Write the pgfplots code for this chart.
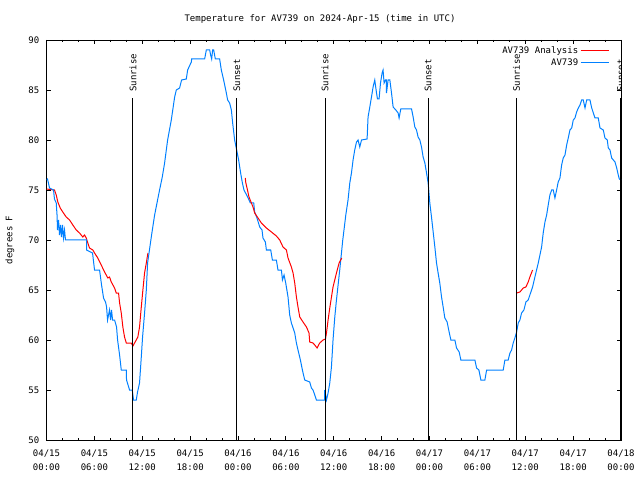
\documentclass[border=0pt]{standalone}
\usepackage{pgfplots}
\pgfplotsset{compat=1.18}
\usepackage{fontspec}
\setmainfont{DejaVu Sans Mono}
\definecolor{ablue}{RGB}{0,128,255}
\definecolor{ared}{RGB}{255,0,0}
\begin{document}
\fontsize{9pt}{11pt}\selectfont
\begin{tikzpicture}[x=1pt,y=1pt]
\path[use as bounding box] (0,0) rectangle (640,480);
\node[inner sep=0pt] at (320,461) {Temperature for AV739 on 2024-Apr-15 (time in UTC)};
\node[rotate=90,inner sep=0pt] at (10,240) {degrees F};
\begin{axis}[
  at={(46.5pt,40pt)}, anchor=south west,
  scale only axis, width=574.5pt, height=400pt,
  xmin=0, xmax=72, ymin=50, ymax=90,
  xtick={0,6,...,72},
  xticklabels={{04/15\\00:00},{04/15\\06:00},{04/15\\12:00},{04/15\\18:00},{04/16\\00:00},{04/16\\06:00},{04/16\\12:00},{04/16\\18:00},{04/17\\00:00},{04/17\\06:00},{04/17\\12:00},{04/17\\18:00},{04/18\\00:00}},
  minor xtick={2,4,8,10,14,16,20,22,26,28,32,34,38,40,44,46,50,52,56,58,62,64,68,70},
  ytick={50,55,...,90},
  tick align=inside,
  major tick length=4pt, minor tick length=2.5pt,
  tick style={black, line width=0.8pt},
  axis line style={black, line width=0.8pt},
  /pgf/number format/assume math mode=true,
  xticklabel style={font=\fontsize{9}{14}\selectfont, align=center, yshift=-7pt},
  yticklabel style={font=\fontsize{9}{11}\selectfont, xshift=-4pt},
  legend style={draw=none, fill=none, anchor=north east, at={(0.985,0.995)}, font=\fontsize{9}{11}\selectfont, row sep=0pt},
  legend cell align=right,
  legend plot pos=right,
  legend image code/.code={\draw[#1] (0pt,0pt) -- (28pt,0pt);},
]
\addplot[ared, line width=1pt] coordinates {
(0,75.1)(1.00,75)(1.22,74.5)(1.42,73.8)(1.72,73.2)(2.04,72.8)(2.47,72.3)(2.89,72)(3.30,71.5)(3.73,71)(4.14,70.7)(4.55,70.3)(4.77,70.5)(4.98,70.2)(5.18,69.7)(5.39,69.2)(5.81,69)(6.02,68.7)(6.43,68.2)(6.86,67.5)(7.28,66.8)(7.69,66.2)(7.90,66.3)(8.12,65.8)(8.53,65.2)(8.74,64.7)(9.03,64.7)(9.16,63.7)(9.37,62.7)(9.57,61.3)(9.78,60.3)(10.00,59.7)(10.62,59.7)(10.83,59.4)(11.04,59.7)(11.45,60.3)(11.66,61.3)(11.88,63.3)(12.08,65)(12.29,66.7)(12.51,67.7)(12.71,68.7)
};
\addlegendentry{AV739 Analysis}
\addplot[ablue, line width=1pt] coordinates {
(0,76)(0.13,76.1)(0.38,75.2)(0.88,75)(1.00,74.1)(1.22,73.7)(1.32,72.5)(1.38,71)(1.51,72)(1.63,70.5)(1.76,71.5)(1.88,70.3)(2.01,71.5)(2.13,70.2)(2.26,71)(2.38,70)(2.89,70)(5.02,70)(5.02,69)(5.77,68.7)(6.02,67)(6.65,67)(6.90,65.5)(7.15,64.2)(7.40,63.8)(7.53,63.3)(7.65,62)(7.90,63)(8.03,62)(8.15,63)(8.28,62)(8.53,62)(8.78,61.3)(8.91,60)(9.16,58.5)(9.37,57)(10.00,57)(10.03,56)(10.41,55)(10.75,55)(10.91,54)(11.25,54)(11.41,54.8)(11.66,55.7)(11.88,58.3)(12.04,60.3)(12.29,62.7)(12.51,65)(12.67,67.7)(13.17,70.5)(13.55,72.5)(14.17,75)(14.51,76.3)(14.80,77.7)(15.18,80)(15.64,82)(16.06,84.3)(16.27,85)(16.68,85.2)(16.93,86)(17.52,86.1)(17.69,87)(18.15,87.8)(18.19,88.1)(19.82,88.1)(20.03,89)(20.45,89)(20.57,88.5)(20.70,88.1)(20.82,89)(20.95,89)(21.16,88.1)(21.70,88.1)(21.91,87)(22.20,86)(22.54,84.7)(22.70,84)(22.95,83.7)(23.17,83)(23.33,81.7)(23.58,80)(23.83,79)(24.08,78)(24.33,76.7)(24.55,75.7)(24.75,75)(25.21,74.3)(25.55,73.7)(25.97,73.7)(26.09,72.8)(26.38,72.2)(26.72,71.3)(27.01,71)(27.13,70.2)(27.43,69.8)(27.56,69)(28.10,69)(28.31,68)(28.81,68)(29.01,67)(29.44,67)(29.57,66)(29.77,66.5)(29.98,65.7)(30.27,64.3)(30.48,62.5)(30.69,61.7)(30.86,61.3)(31.11,60.7)(31.32,59.7)(31.52,59)(31.82,58)(32.07,57)(32.36,56)(32.99,55.8)(33.20,55.2)(33.40,55)(33.62,54.5)(33.83,54)(34.87,54)(34.87,55)(35.09,54)(35.29,54.7)(35.50,55.7)(35.71,57.3)(35.91,60)(36.13,62.3)(36.34,64)(36.75,67)(37.13,70)(37.51,72.5)(37.79,74)(38.01,75.7)(38.22,76.7)(38.42,78)(38.63,79)(38.85,79.8)(39.05,80)(39.26,79.3)(39.48,80)(40.18,80.1)(40.30,82.3)(40.52,83.3)(40.73,84.3)(40.93,85.3)(41.14,86)(41.36,84.7)(41.48,84.1)(41.68,84.1)(41.86,85.7)(42.06,86.7)(42.18,87)(42.31,85.7)(42.49,86)(42.61,86)(42.61,84.7)(42.81,86)(43.03,86)(43.24,84.7)(43.44,83.3)(43.78,83)(44.07,82.7)(44.19,82.2)(44.40,83.1)(45.75,83.1)(45.95,82.3)(46.16,81.3)(46.37,81)(46.57,80.3)(46.79,80)(47.00,79.3)(47.20,78.3)(47.42,77.7)(47.63,76.7)(47.83,75.7)(48.04,73.7)(48.25,72.3)(48.46,70.8)(48.67,69.3)(48.88,67.7)(49.08,66.7)(49.29,65.7)(49.51,64.3)(49.71,63.3)(49.92,62.2)(50.21,61.8)(50.46,60.8)(50.68,60)(51.18,60)(51.39,59.2)(51.72,58.8)(51.93,58)(53.69,58)(53.90,57.2)(54.19,57)(54.44,56)(54.94,56)(55.16,57)(57.24,57)(57.45,58)(57.86,58)(58.08,58.7)(58.29,59)(58.49,59.7)(58.70,60.2)(58.92,60.8)(59.12,61.7)(59.33,62)(59.54,62.7)(59.83,63)(60.08,63.8)(60.37,64)(60.58,64.5)(60.92,65.3)(61.21,66.3)(61.63,67.7)(62.05,69.3)(62.25,70.7)(62.47,71.8)(62.68,72.5)(62.88,73.5)(63.09,74.5)(63.31,75)(63.51,75)(63.72,74.2)(63.93,75)(64.13,75.8)(64.35,76.2)(64.56,77.5)(64.76,78.2)(64.98,78.5)(65.19,79.5)(65.39,80.2)(65.60,81)(65.82,81.2)(66.02,82)(66.23,82.2)(66.44,82.8)(66.65,83.2)(66.86,83.5)(67.07,84)(67.27,84)(67.49,83.2)(67.70,84)(68.11,84)(68.33,83.2)(68.74,82.2)(69.15,82.2)(69.37,81.2)(69.78,81)(69.99,80.2)(70.28,80)(70.41,79.2)(70.62,79)(70.83,78.2)(71.25,77.8)(71.46,77.2)(71.66,76.5)(71.79,76.1)(72.00,76)
};
\addlegendentry{AV739}
\addplot[ared, line width=1pt, forget plot] coordinates {
(24.92,76.2)(24.96,75.8)(25.13,75.2)(25.38,74.3)(25.68,73.7)(25.88,73.3)(26.09,72.7)(26.51,72.2)(26.93,71.7)(27.56,71.2)(28.19,70.8)(28.81,70.4)(29.23,70)(29.64,69.3)(30.07,69)(30.27,68.2)(30.69,67.3)(30.90,66.7)(31.11,65.7)(31.32,64.3)(31.52,63.3)(31.74,62.3)(32.15,61.8)(32.58,61.3)(32.90,60.7)(32.99,59.8)(33.40,59.7)(33.62,59.5)(33.91,59.2)(34.24,59.7)(34.66,60)(34.96,60.1)(35.09,60.7)(35.29,62)(35.50,63.2)(35.91,65.3)(36.34,66.7)(36.67,67.7)(37.00,68.2)
};
\addplot[ared, line width=1pt, forget plot] coordinates {
(58.92,64.7)(59.33,64.8)(59.75,65.2)(60.08,65.3)(60.37,65.8)(60.58,66.3)(60.92,67)
};
% sunrise / sunset lines
\addplot[black, line width=1pt, forget plot] coordinates {(10.83,50)(10.83,84.2)};
\addplot[black, line width=1pt, forget plot] coordinates {(23.87,50)(23.87,84.2)};
\addplot[black, line width=1pt, forget plot] coordinates {(34.91,50)(34.91,84.2)};
\addplot[black, line width=1pt, forget plot] coordinates {(47.83,50)(47.83,84.2)};
\addplot[black, line width=1pt, forget plot] coordinates {(58.92,50)(58.92,84.2)};
\addplot[black, line width=1pt, forget plot] coordinates {(71.96,50)(71.96,84.2)};
\node[rotate=90, anchor=west, inner sep=0pt] at (axis cs:10.83,84.8) {Sunrise};
\node[rotate=90, anchor=west, inner sep=0pt] at (axis cs:23.87,84.8) {Sunset};
\node[rotate=90, anchor=west, inner sep=0pt] at (axis cs:34.91,84.8) {Sunrise};
\node[rotate=90, anchor=west, inner sep=0pt] at (axis cs:47.83,84.8) {Sunset};
\node[rotate=90, anchor=west, inner sep=0pt] at (axis cs:58.92,84.8) {Sunrise};
\node[rotate=90, anchor=west, inner sep=0pt] at (axis cs:71.96,84.8) {Sunset};
\end{axis}
\end{tikzpicture}
\end{document}
